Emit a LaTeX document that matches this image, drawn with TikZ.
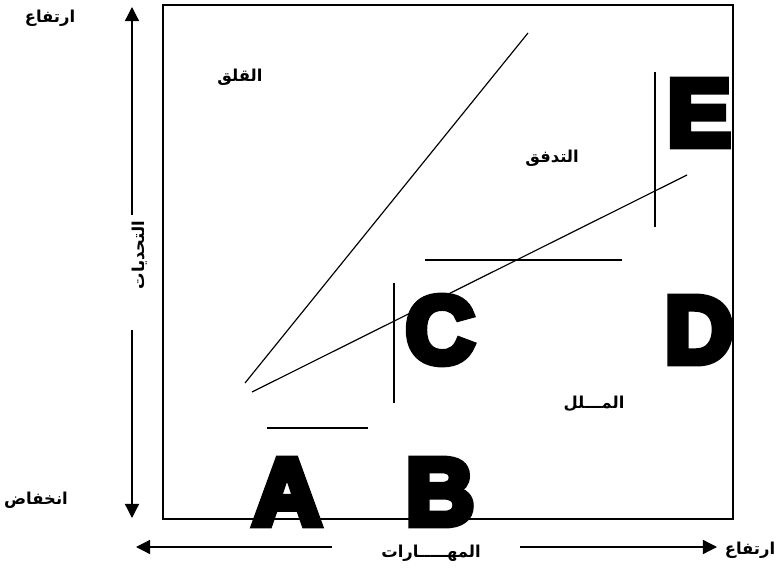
\documentclass[tikz,border=0pt]{standalone}
\usepackage{fontspec}
\setmainfont{Liberation Sans}
\newfontfamily\arabicfont[Script=Arabic]{DejaVu Sans}
\newfontfamily\lettrefont[FakeBold=8]{Liberation Sans Bold}
\TeXXeTstate=1
\usetikzlibrary{arrows.meta}

\begin{document}
\begin{tikzpicture}[
  x=0.03cm, y=-0.03cm,
  etiq/.style={font=\arabicfont\bfseries\fontsize{14}{16}\selectfont, inner sep=0pt},
  lettre/.style={font=\lettrefont\fontsize{81}{81}\selectfont, inner sep=0pt},
  trait/.style={line width=1pt},
  fl/.style={line width=1.1pt, -{Triangle[length=12pt, width=12pt]}},
]
\useasboundingbox (0,0) rectangle (779,569);
% le cadre
\draw[line width=1.7pt] (163,5) rectangle (733,519);
% les lettres
\node[lettre] (A) at (287,492) {A};
\node[lettre] (B) at (440,492) {B};
\node[lettre] (C) at (440,330) {C};
\node[lettre] (D) at (699,330) {D};
\node[lettre] (E) at (699,113) {E};
% les zones
\node[etiq] (anx) at (240,77) {\beginR القلق\endR};
\node[etiq] (flux) at (552,158) {\beginR التدفق\endR};
\node[etiq] (ennui) at (594,404) {\beginR المـــلل\endR};
% les droites
\coordinate (d1a) at (245,383); \coordinate (d1b) at (528,33);
\coordinate (d2a) at (252,392); \coordinate (d2b) at (687,175);
\draw[trait] (d1a) -- (d1b);
\draw[trait] (d2a) -- (d2b);
\coordinate (hA1) at (267,428); \coordinate (hA2) at (368,428);
\coordinate (vC1) at (394,283); \coordinate (vC2) at (394,403);
\coordinate (hC1) at (425,260); \coordinate (hC2) at (622,260);
\coordinate (vE1) at (655,72); \coordinate (vE2) at (655,227);
\draw[trait] (hA1) -- (hA2);
\draw[trait] (vC1) -- (vC2);
\draw[trait] (hC1) -- (hC2);
\draw[trait] (vE1) -- (vE2);
% axe vertical
\node[etiq, rotate=90] (defis) at (140,255) {\beginR التحديات\endR};
\node[etiq] (haut) at (50,18) {\beginR ارتفاع\endR};
\node[etiq] (bas) at (36,500) {\beginR انخفاض\endR};
\coordinate (v1) at (132,215); \coordinate (v1t) at (132,7);
\coordinate (v2) at (132,330); \coordinate (v2t) at (132,518);
\draw[fl] (v1) -- (v1t);
\draw[fl] (v2) -- (v2t);
% axe horizontal
\node[etiq] (habil) at (431,553) {\beginR المهـــــارات\endR};
\node[etiq] (droite) at (750,550) {\beginR ارتفاع\endR};
\coordinate (h1) at (332,547); \coordinate (h1t) at (136,547);
\coordinate (h2) at (520,547); \coordinate (h2t) at (717,547);
\draw[fl] (h1) -- (h1t);
\draw[fl] (h2) -- (h2t);
\end{tikzpicture}
\end{document}
